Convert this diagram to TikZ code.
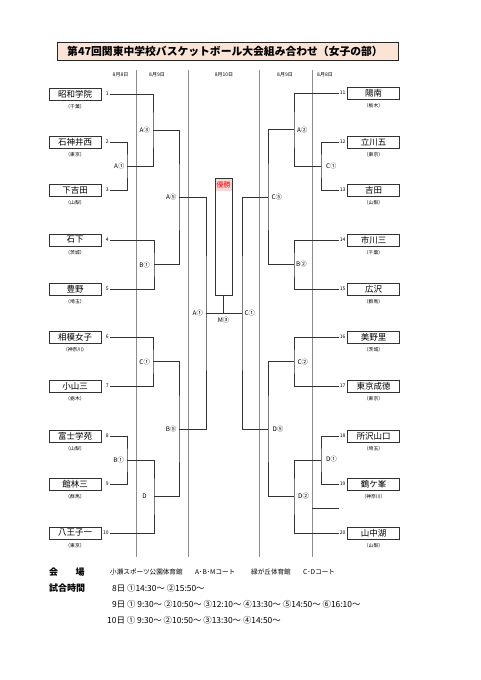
\documentclass[tikz,border=0pt]{standalone}
\usepackage{fontspec}
\setmainfont{Noto Sans CJK JP}
\definecolor{titlefill}{RGB}{250,228,214}
\definecolor{wingold}{RGB}{250,215,215}
\begin{document}
\begin{tikzpicture}[x=1pt,y=-1pt,
  br/.style={draw=black!80, line width=0.7pt},
  dl/.style={draw=black!45, line width=0.8pt},
  team/.style={draw=black!80, line width=0.8pt, minimum width=52pt, minimum height=12pt, inner sep=0pt, font=\fontsize{8.5}{9}\selectfont},
  pref/.style={font=\fontsize{4.8}{5}\selectfont, inner sep=0pt},
  num/.style={font=\fontsize{5}{6}\selectfont, inner sep=0.6pt},
  lab/.style={font=\fontsize{6.3}{7}\selectfont, inner sep=0pt},
  datelab/.style={font=\fontsize{5}{6}\selectfont, inner sep=0pt},
  info/.style={anchor=west, inner sep=0pt, font=\fontsize{8.4}{9}\selectfont},
  infob/.style={anchor=west, inner sep=0pt, font=\bfseries\fontsize{9}{10}\selectfont},
  venue/.style={anchor=west, inner sep=0pt, font=\fontsize{6.6}{8}\selectfont}
]
\useasboundingbox[fill=white] (0,0) rectangle (481,680);

% title
\fill[black!60] (58.2,43.2) rectangle (399.2,61.2);
\draw[fill=titlefill, draw=black!85, line width=0.6pt] (57,42) rectangle (398,60);
\node[font=\bfseries\fontsize{10.8}{12}\selectfont, inner sep=0pt] (title) at (225,51) {第47回関東中学校バスケットボール大会組み合わせ（女子の部）};

% date lines
\draw[dl] (136,70) -- (136,557);
\draw[dl] (188,70) -- (188,557);
\draw[dl] (259,70) -- (259,557);
\draw[dl] (312,70) -- (312,557);
\node[datelab] (dL8) at (120.5,75) {8月8日};
\node[datelab] (dL9) at (157,75) {8月9日};
\node[datelab] (d10) at (224,75) {8月10日};
\node[datelab] (dR9) at (285,75) {8月9日};
\node[datelab] (dR8) at (325,75) {8月8日};

% teams left
\foreach \i/\yy/\tn/\tp in {1/94/昭和学院/千葉,2/142/石神井西/東京,3/190/下吉田/山梨,4/240/石下/茨城,5/289/豊野/埼玉,6/337/相模女子/神奈川,7/386/小山三/栃木,8/436/富士学苑/山梨,9/484/館林三/群馬,10/533/八王子一/東京}{
  \node[team] (L\i) at (75,\yy) {\tn};
  \node[pref] (LP\i) at (75,\yy+12.5) {（\tp）};
  \node[num, anchor=east] (LN\i) at (109.5,\yy) {\i};
}
% teams right
\foreach \i/\yy/\tn/\tp in {11/93/陽南/栃木,12/142/立川五/東京,13/190/吉田/山梨,14/240/市川三/千葉,15/289/広沢/群馬,16/337/美野里/茨城,17/386/東京成徳/東京,18/436/所沢山口/埼玉,19/484/鶴ケ峯/神奈川,20/533/山中湖/山梨}{
  \node[team] (R\i) at (373.5,\yy) {\tn};
  \node[pref] (RP\i) at (373.5,\yy+12.5) {（\tp）};
  \node[num, anchor=west] (RN\i) at (339,\yy) {\i};
}

% junctions
\coordinate (mA1L) at (127,166);
\coordinate (mA3L) at (153,130);
\coordinate (mB1L) at (154,264.5);
\coordinate (mA5L) at (179,197);
\coordinate (mC1L) at (153,361.5);
\coordinate (mB1bL) at (127,460);
\coordinate (mDL) at (154,496.5);
\coordinate (mB5L) at (179,429);
\coordinate (mA1s) at (206,313);
\coordinate (mM3) at (223.5,313);
\coordinate (mC1s) at (242,313);
\coordinate (mA2R) at (294,129.5);
\coordinate (mC1R) at (321,166);
\coordinate (mB2R) at (294,264.5);
\coordinate (mC5R) at (268,197);
\coordinate (mC2R) at (294,361.5);
\coordinate (mD1R) at (321,460);
\coordinate (mD2R) at (294,496.5);
\coordinate (mD5R) at (268,429);
\coordinate (strayA) at (312,508);
\coordinate (strayB) at (339,508);

% left bracket
\draw[br] (LN2.east) -| (mA1L) |- (LN3.east);
\draw[br] (LN1.east) -| (mA3L) |- (mA1L);
\draw[br] (LN4.east) -| (mB1L) |- (LN5.east);
\draw[br] (mA3L) -| (mA5L) |- (mB1L);
\draw[br] (LN6.east) -| (mC1L) |- (LN7.east);
\draw[br] (LN8.east) -| (mB1bL) |- (LN9.east);
\draw[br] (mB1bL) -| (mDL) |- (LN10.east);
\draw[br] (mC1L) -| (mB5L) |- (mDL);
\draw[br] (mA5L) -| (mA1s) |- (mB5L);
% right bracket
\draw[br] (RN12.west) -| (mC1R) |- (RN13.west);
\draw[br] (RN11.west) -| (mA2R) |- (mC1R);
\draw[br] (RN14.west) -| (mB2R) |- (RN15.west);
\draw[br] (mA2R) -| (mC5R) |- (mB2R);
\draw[br] (RN16.west) -| (mC2R) |- (RN17.west);
\draw[br] (RN18.west) -| (mD1R) |- (RN19.west);
\draw[br] (mD1R) -| (mD2R) |- (RN20.west);
\draw[br] (mC2R) -| (mD5R) |- (mD2R);
\draw[br] (mC5R) -| (mC1s) |- (mD5R);
\draw[br] (strayA) -- (strayB);

% trophy box
\fill[wingold] (215,178) rectangle (232,191);
\node[draw=black!80, line width=0.7pt, minimum width=17pt, minimum height=117pt, inner sep=0pt] (trophy) at (223.5,236.5) {};
\node[text=red, font=\fontsize{7}{8}\selectfont, inner sep=0pt] (win) at (223.5,184.5) {優勝};
% final
\draw[br] (mA1s) -- (mC1s);
\draw[br] (mM3) -- (trophy.south);

% match labels
\node[lab, anchor=east] (lA1) at (124.5,166) {A①};
\node[lab, anchor=east] (lA3) at (150,130) {A③};
\node[lab, anchor=east] (lB1) at (150,265) {B①};
\node[lab, anchor=east] (lC1) at (150,362) {C①};
\node[lab, anchor=east] (lB1b) at (124,460) {B①};
\node[lab, anchor=east] (lD) at (147,496.5) {D};
\node[lab, anchor=east] (lA5) at (176.5,197) {A⑤};
\node[lab, anchor=east] (lB5) at (176.5,429.5) {B⑤};
\node[lab, anchor=east] (lA1s) at (203,313) {A①};
\node[lab] (lM3) at (223.5,320) {M③};
\node[lab, anchor=west] (lC1s) at (244.5,313) {C①};
\node[lab, anchor=west] (lC5) at (271.5,197) {C⑤};
\node[lab, anchor=west] (lD5) at (272.5,429) {D⑤};
\node[lab, anchor=west] (lA2) at (297,130) {A②};
\node[lab, anchor=west] (lB2) at (296,264) {B②};
\node[lab, anchor=west] (lC2) at (297.5,362) {C②};
\node[lab, anchor=west] (lD2) at (298,496) {D②};
\node[lab, anchor=west] (lC1R) at (326,166) {C①};
\node[lab, anchor=west] (lD1R) at (326,459.5) {D①};

% bottom information
\node[infob] (kai) at (49,572) {会};
\node[infob] (jo) at (75.5,572) {場};
\node[venue] (v1) at (110,572) {小瀬スポーツ公園体育館};
\node[venue] (v2) at (195,572) {A･B･Mコート};
\node[venue] (v3) at (251,572) {緑が丘体育館};
\node[venue] (v4) at (303,572) {C･Dコート};
\node[infob] (shiai) at (49,588) {試合時間};
\node[info] (d8) at (112,588) {8日 ①14:30～ ②15:50～};
\node[info] (d9) at (112,604) {9日 ① 9:30～ ②10:50～ ③12:10～ ④13:30～ ⑤14:50～ ⑥16:10～};
\node[info] (d10) at (107,620) {10日 ① 9:30～ ②10:50～ ③13:30～ ④14:50～};
\end{tikzpicture}
\end{document}
